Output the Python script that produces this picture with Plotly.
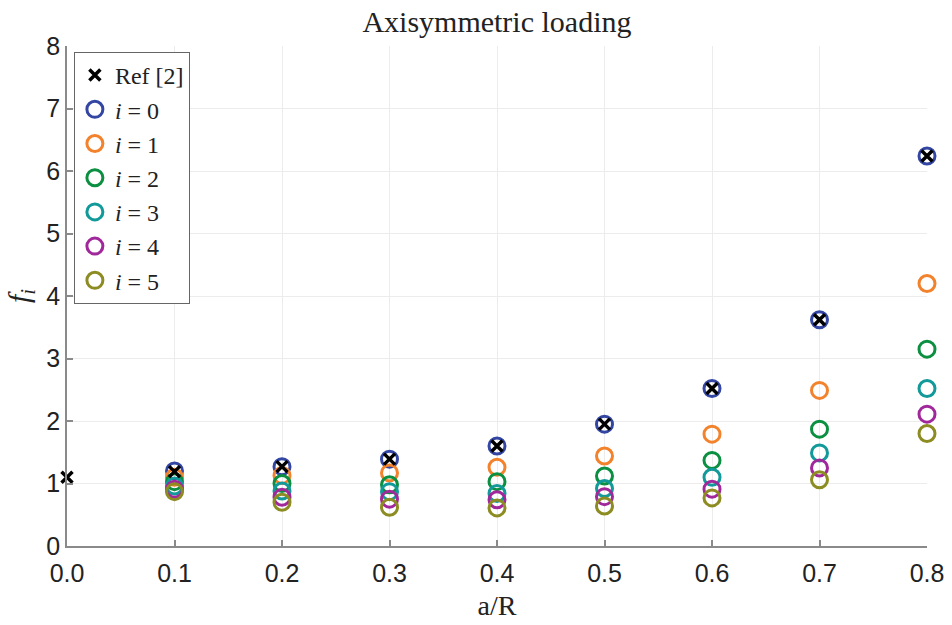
import plotly.graph_objects as go

# a/R positions
a_over_R = [0.1, 0.2, 0.3, 0.4, 0.5, 0.6, 0.7, 0.8]

# Reference values (Ref [2])
ref_x = [0.0, 0.1, 0.2, 0.3, 0.4, 0.5, 0.6, 0.7, 0.8]
ref_f = [1.10, 1.19, 1.27, 1.39, 1.60, 1.95, 2.52, 3.62, 6.24]

# Computed f_i for i = 0..5
f0 = [1.20, 1.27, 1.39, 1.60, 1.95, 2.52, 3.62, 6.24]
f1 = [1.10, 1.13, 1.17, 1.26, 1.44, 1.79, 2.49, 4.20]
f2 = [1.03, 1.00, 0.98, 1.03, 1.12, 1.37, 1.87, 3.15]
f3 = [0.96, 0.88, 0.87, 0.84, 0.92, 1.10, 1.49, 2.52]
f4 = [0.91, 0.78, 0.75, 0.74, 0.79, 0.91, 1.25, 2.11]
f5 = [0.87, 0.70, 0.62, 0.61, 0.64, 0.77, 1.06, 1.80]

series = [f0, f1, f2, f3, f4, f5]
colors = ["#3346a3", "#f3822d", "#0b8f40", "#12999a", "#a0289b", "#8c8c22"]

x_ticks = [0.0, 0.1, 0.2, 0.3, 0.4, 0.5, 0.6, 0.7, 0.8]
y_ticks = [0, 1, 2, 3, 4, 5, 6, 7, 8]

serif = "Liberation Serif"
sans = "Liberation Sans"

fig = go.Figure()

for i, (vals, col) in enumerate(zip(series, colors)):
    fig.add_trace(go.Scatter(
        x=a_over_R, y=vals, mode="markers",
        name=f"<i>i</i> = {i}",
        marker=dict(symbol="circle-open", size=16, color=col,
                    line=dict(width=3, color=col)),
        cliponaxis=False, legendrank=10 + i,
    ))

fig.add_trace(go.Scatter(
    x=ref_x, y=ref_f, mode="markers", name="Ref [2]",
    marker=dict(symbol="x-thin-open", size=11, color="black",
                line=dict(width=3.5, color="black")),
    cliponaxis=False, legendrank=1,
))

axis_common = dict(
    showgrid=True, gridcolor="#ececec", gridwidth=1,
    showline=True, linecolor="#8a8a8a", linewidth=1.5,
    ticks="inside", ticklen=6, tickcolor="#8a8a8a", tickwidth=1.5,
    tickfont=dict(family=sans, size=25, color="#222222"),
    zeroline=False, mirror=False, automargin=False,
)

fig.update_layout(
    width=952, height=625,
    margin=dict(l=67, r=25, t=46, b=79),
    paper_bgcolor="white", plot_bgcolor="white",
    title=dict(text="Axisymmetric loading", x=0.522, xanchor="center",
               y=0.965, yanchor="middle",
               font=dict(family=serif, size=30, color="#222222")),
    xaxis=dict(range=[0, 0.8], tickvals=x_ticks, tickformat=".1f",
               ticklabelstandoff=4,
               title=dict(text="a/R", font=dict(family=serif, size=28, color="#222222"),
                          standoff=10),
               **axis_common),
    yaxis=dict(range=[0, 8], tickvals=y_ticks,
               title=dict(text="<i>f</i><sub><i>i</i></sub>",
                          font=dict(family=serif, size=30, color="#222222"),
                          standoff=8),
               **axis_common),
    legend=dict(x=0.008, y=0.988, xanchor="left", yanchor="top",
                bgcolor="white", bordercolor="#666666", borderwidth=1,
                font=dict(family=serif, size=24, color="#222222"),
                itemwidth=30, tracegroupgap=0),
    showlegend=True,
)

fig.write_html("out.html")
